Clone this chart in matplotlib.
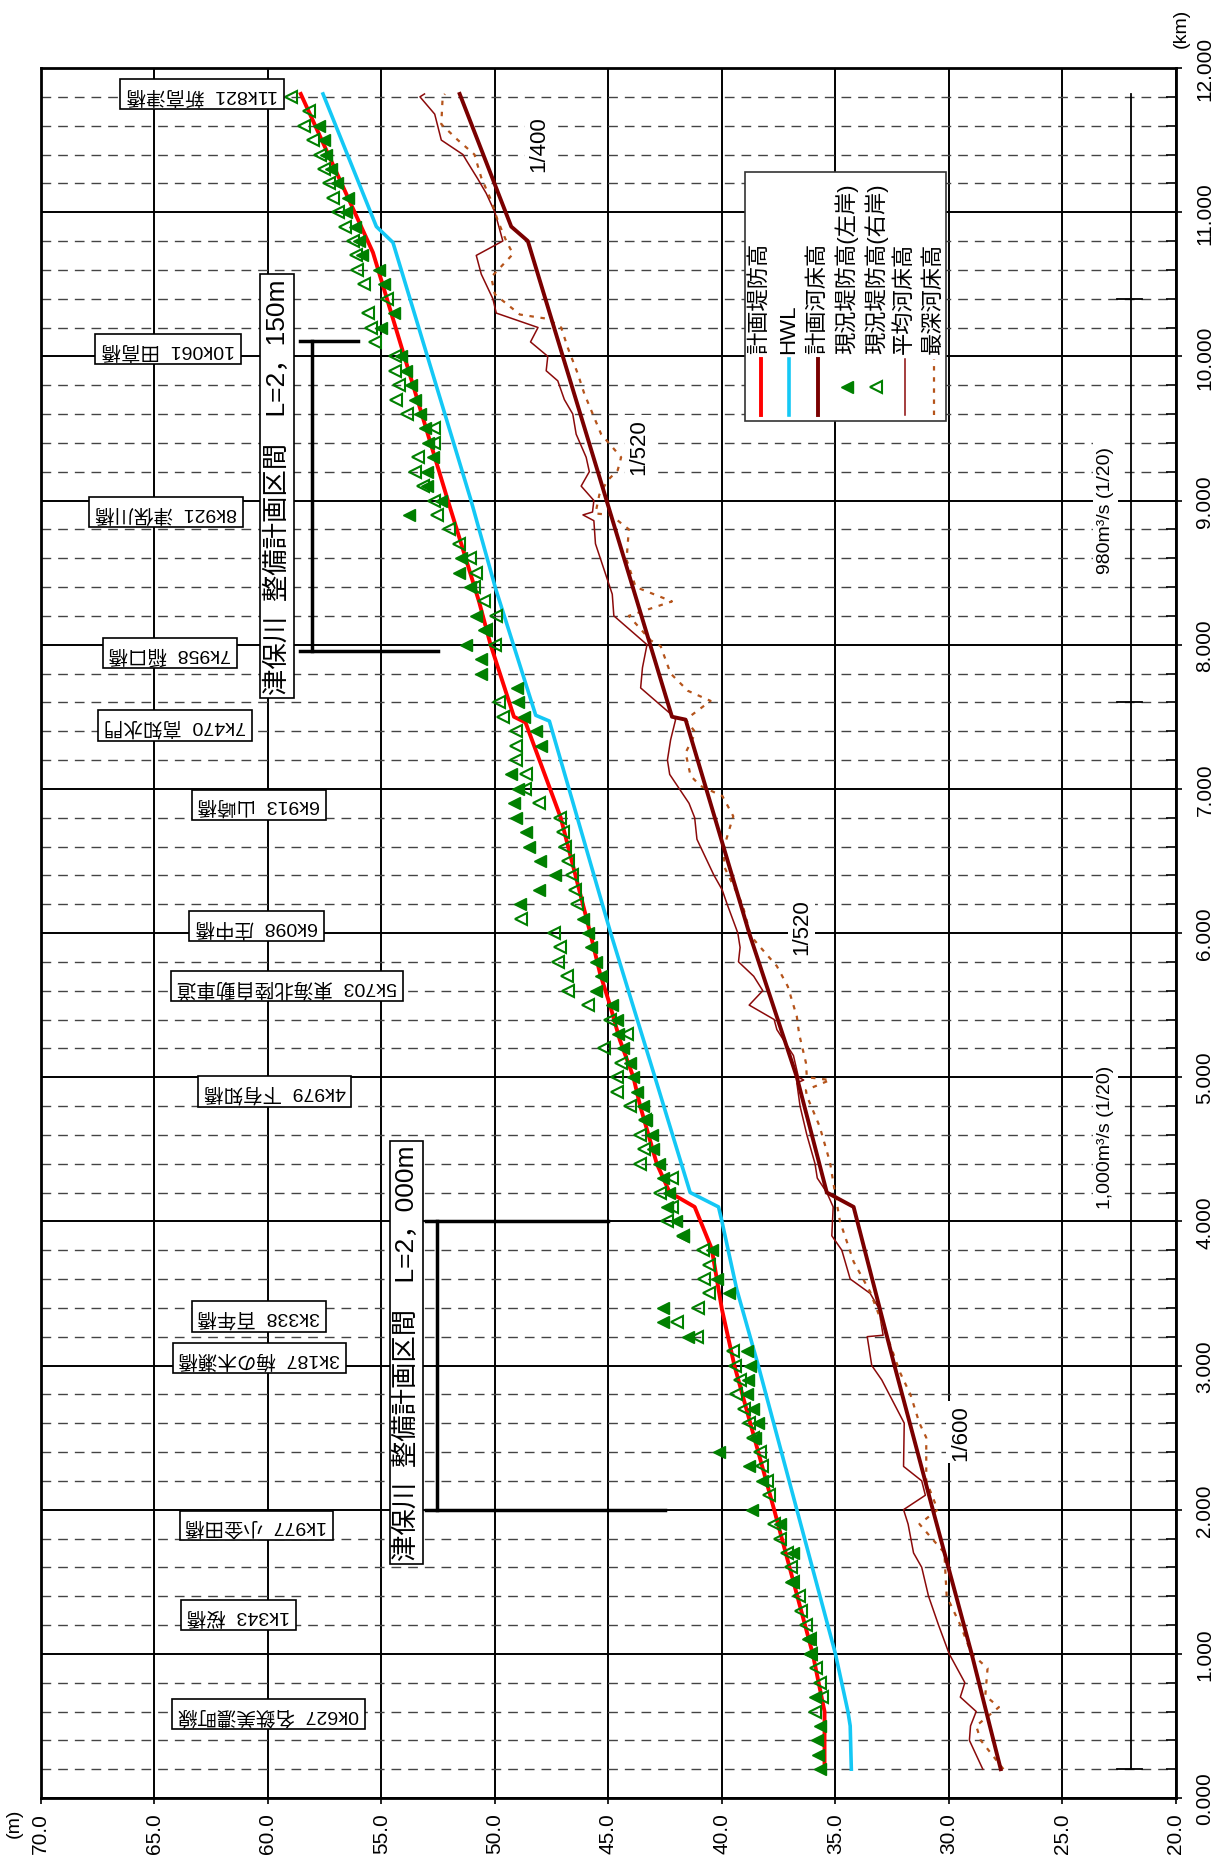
import numpy as np
import matplotlib
matplotlib.use('Agg')
import matplotlib.pyplot as plt
from matplotlib.ticker import FormatStrFormatter

plt.rcParams['font.family'] = ['Liberation Sans', 'Noto Sans CJK JP']

# 計画堤防高
plan_levee_km = [0.2, 0.6, 1.0, 2.0, 3.0, 3.39, 3.81, 4.1, 4.2, 4.4, 4.8, 5.0, 5.26, 5.5, 5.72, 6.0,
                 6.8, 7.46, 7.5, 8.0, 8.3, 9.0, 10.72, 10.8, 11.82]
plan_levee = [35.48, 35.48, 36.0, 37.7, 39.45, 40.0, 40.45, 41.2, 42.3, 42.87, 43.6, 43.9, 44.5, 44.93, 45.37, 45.8,
              47.1, 48.65, 49.16, 50.19, 50.7, 52.07, 55.37, 55.6, 58.55]

# HWL
hwl_km = [0.2, 0.5, 0.6, 1.0, 2.0, 3.0, 3.53, 4.0, 4.1, 4.2, 5.0, 6.0, 7.47, 7.51, 8.39, 9.0, 10.79, 10.9, 11.82]
hwl = [34.3, 34.35, 34.45, 35.0, 36.7, 38.4, 39.35, 40.0, 40.15, 41.4, 42.95, 44.9, 47.6, 48.2, 49.97, 51.05,
       54.49, 55.22, 57.57]

# 計画河床高
plan_bed_km = [0.2, 1.0, 2.0, 3.0, 4.1, 4.2, 5.0, 6.0, 7.48, 7.5, 9.0, 10.8, 10.9, 11.82]
plan_bed = [27.72, 29.0, 30.71, 32.4, 34.2, 35.38, 36.7, 38.8, 41.6, 42.2, 45.08, 48.55, 49.28, 51.55]

# 平均河床高
avg_bed_km = [0.2, 0.4, 0.5, 0.6, 0.7, 0.8, 1.0, 1.2, 1.4, 1.6, 1.7, 1.9, 2.0, 2.1, 2.2, 2.3, 2.6, 2.9, 3.0,
              3.2, 3.21, 3.4, 3.5, 3.6, 3.8, 3.9, 4.1, 4.2, 4.3, 4.4, 4.6, 4.8, 4.96, 4.98, 5.0, 5.15, 5.33,
              5.4, 5.5, 5.6, 5.7, 5.8, 5.9, 6.0, 6.2, 6.3, 6.4, 6.5, 6.65, 6.8, 6.9, 7.1, 7.2, 7.34, 7.48,
              7.52, 7.7, 7.84, 8.0, 8.2, 8.35, 8.7, 8.86, 8.9, 8.92, 9.0, 9.1, 9.2, 9.3, 9.46, 9.6, 9.7,
              9.83, 9.9, 10.0, 10.1, 10.2, 10.3, 10.4, 10.57, 10.7, 10.8, 11.0, 11.13, 11.23, 11.36, 11.4,
              11.5, 11.68, 11.8, 11.82]
avg_bed = [28.51, 29.1, 29.05, 28.8, 29.5, 29.3, 29.99, 30.46, 30.9, 31.2, 31.56, 31.8, 32.0, 31.04, 31.2, 32.0,
           31.97, 32.96, 33.4, 33.6, 32.9, 33.1, 33.47, 34.35, 34.72, 35.16, 35.1, 35.38, 35.8, 35.9, 36.26,
           36.56, 36.7, 36.4, 36.63, 36.85, 37.58, 37.7, 38.8, 38.2, 38.6, 39.27, 39.2, 39.3, 39.77, 39.99,
           40.35, 40.65, 41.1, 41.2, 41.45, 42.3, 42.4, 42.26, 42.04, 42.26, 43.58, 43.5, 43.3, 44.76, 44.83,
           45.57, 45.64, 46.12, 45.7, 45.64, 46.2, 45.84, 45.98, 46.42, 46.57, 46.94, 47.23, 47.74, 47.67,
           48.43, 48.1, 49.94, 50.09, 50.6, 50.82, 49.65, 50.0, 50.38, 50.75, 51.26, 51.41, 52.36, 52.65,
           53.3, 53.1]

# 最深河床高
deep_bed_km = [0.2, 0.4, 0.5, 0.63, 0.71, 0.9, 1.0, 1.2, 1.4, 1.6, 1.7, 1.9, 2.0, 2.2, 2.5, 2.6, 2.8, 2.95,
               3.21, 3.51, 3.72, 4.0, 4.18, 4.41, 4.66, 4.87, 4.91, 4.98, 5.0, 5.1, 5.3, 5.42, 5.63, 5.77,
               5.9, 5.98, 6.2, 6.46, 6.6, 6.81, 6.95, 7.02, 7.09, 7.25, 7.39, 7.48, 7.61, 7.68, 7.8, 7.99,
               8.03, 8.2, 8.3, 8.4, 8.59, 8.8, 8.9, 8.91, 9.04, 9.14, 9.21, 9.3, 9.46, 9.74, 9.88, 10.06,
               10.2, 10.26, 10.29, 10.43, 10.55, 10.71, 10.8, 10.94, 11.08, 11.24, 11.4, 11.5, 11.61, 11.8,
               11.82]
deep_bed = [27.6, 28.6, 28.8, 27.8, 28.4, 28.3, 29.0, 29.5, 30.1, 30.17, 30.2, 31.3, 30.5, 31.0, 31.0, 31.3,
            31.7, 32.15, 32.74, 33.47, 34.2, 34.8, 35.0, 35.24, 35.7, 36.26, 36.3, 35.24, 36.26, 36.3, 36.6,
            36.7, 37.1, 37.58, 38.3, 38.73, 39.1, 39.9, 39.9, 39.5, 39.98, 40.94, 41.38, 41.6, 41.16, 41.6,
            40.5, 41.5, 42.26, 42.7, 43.14, 44.1, 42.2, 43.8, 44.2, 44.1, 44.9, 45.57, 45.4, 45.03, 44.59,
            44.44, 45.32, 46.06, 46.35, 46.79, 47.08, 47.67, 48.9, 50.0, 50.16, 49.2, 49.5, 49.87, 50.16,
            50.6, 50.9, 51.63, 52.36, 52.3, 52.2]

# 現況堤防高(左岸)
left_km = [0.2, 0.3, 0.4, 0.5, 0.7, 1.0, 1.1, 1.5, 1.7, 1.9, 2.0, 2.2, 2.3, 2.4, 2.5, 2.6, 2.7, 2.8, 2.9, 3.0,
           3.1, 3.2, 3.3, 3.4, 3.5, 3.6, 3.8, 3.9, 4.0, 4.1, 4.2, 4.3, 4.4, 4.5, 4.6, 4.7, 4.8, 4.9, 5.0,
           5.1, 5.2, 5.3, 5.4, 5.5, 5.6, 5.7, 5.8, 5.9, 6.0, 6.1, 6.2, 6.3, 6.4, 6.5, 6.6, 6.7, 6.8, 6.9,
           7.0, 7.1, 7.3, 7.4, 7.5, 7.6, 7.7, 7.8, 7.9, 8.0, 8.1, 8.2, 8.4, 8.5, 8.6, 8.9, 9.0, 9.1, 9.2,
           9.3, 9.4, 9.5, 9.6, 9.7, 9.8, 9.9, 10.0, 10.2, 10.3, 10.5, 10.6, 10.7, 10.8, 10.9, 11.0, 11.1,
           11.2, 11.3, 11.4, 11.5, 11.6]
left_levee = [35.70, 35.78, 35.82, 35.70, 35.90, 36.12, 36.22, 36.94, 36.88, 37.44, 38.66, 38.25, 38.79, 40.15,
              38.54, 38.39, 38.64, 38.88, 38.83, 38.76, 38.91, 41.48, 42.58, 42.58, 39.68, 40.23, 40.45, 41.70,
              42.02, 42.43, 42.31, 42.58, 42.75, 43.02, 43.09, 43.34, 43.49, 43.72, 43.90, 44.07, 44.37, 44.56,
              44.63, 44.85, 45.54, 45.34, 45.54, 45.76, 45.90, 46.12, 48.91, 48.05, 47.37, 48.02, 48.50, 48.62,
              49.05, 49.16, 48.99, 49.31, 47.99, 48.19, 48.72, 48.99, 49.02, 50.63, 50.63, 51.26, 50.48, 50.81,
              51.10, 51.57, 51.50, 53.79, 52.39, 52.98, 52.98, 52.73, 52.95, 53.09, 53.31, 53.50, 53.68, 53.90,
              54.12, 55.03, 54.44, 54.90, 55.12, 55.85, 56.00, 56.17, 56.57, 56.47, 56.94, 57.20, 57.42, 57.54,
              57.74]

# 現況堤防高(右岸)
right_km = [0.6, 0.7, 0.8, 0.9, 1.0, 1.1, 1.2, 1.3, 1.4, 1.5, 1.6, 1.7, 1.8, 1.9, 2.1, 2.2, 2.3, 2.4, 2.5, 2.6,
            2.7, 2.8, 2.9, 3.0, 3.1, 3.2, 3.3, 3.4, 3.5, 3.6, 3.7, 3.8, 3.9, 4.0, 4.1, 4.2, 4.3, 4.4, 4.5,
            4.6, 4.7, 4.8, 4.9, 5.0, 5.1, 5.2, 5.3, 5.4, 5.5, 5.6, 5.7, 5.8, 5.9, 6.0, 6.1, 6.2, 6.3, 6.4,
            6.5, 6.6, 6.7, 6.8, 6.9, 7.0, 7.1, 7.2, 7.3, 7.4, 7.5, 7.6, 8.0, 8.1, 8.2, 8.3, 8.4, 8.5, 8.6,
            8.7, 8.8, 8.9, 9.0, 9.1, 9.2, 9.3, 9.4, 9.5, 9.6, 9.7, 9.8, 9.9, 10.0, 10.1, 10.2, 10.3, 10.4,
            10.5, 10.6, 10.7, 10.8, 10.9, 11.0, 11.1, 11.2, 11.3, 11.4, 11.5, 11.6, 11.7, 11.8]
right_levee = [35.90, 35.57, 35.70, 35.85, 36.07, 36.12, 36.31, 36.53, 36.60, 36.85, 36.97, 37.14, 37.44, 37.69,
               37.92, 38.03, 38.22, 38.32, 38.64, 38.79, 39.02, 39.38, 39.20, 39.42, 39.49, 41.11, 41.99, 41.04,
               40.59, 40.81, 40.59, 40.84, 41.70, 42.43, 42.21, 42.72, 42.21, 43.63, 43.43, 43.60, 43.38, 44.05,
               44.63, 44.60, 44.46, 45.19, 44.19, 44.93, 45.88, 46.76, 46.81, 47.20, 47.13, 47.39, 48.84, 46.37,
               46.45, 46.62, 46.78, 46.92, 46.99, 47.15, 48.05, 48.66, 48.62, 49.09, 49.05, 49.06, 49.66, 49.82,
               49.99, 50.40, 49.97, 50.48, 50.93, 50.81, 51.10, 51.56, 52.03, 52.57, 52.69, 53.17, 53.53, 53.39,
               52.70, 52.68, 53.86, 54.34, 54.24, 54.38, 54.41, 55.29, 55.44, 55.59, 54.74, 55.78, 56.06, 56.10,
               56.25, 56.58, 56.91, 57.13, 57.32, 57.54, 57.71, 58.01, 58.40, 58.20, 58.99]

# 橋などの位置 (標高方向の位置, km)
bridge_names = ['11k821  新高津橋', '10k061  田高橋', '8k921  津保川橋', '7k958  稲口橋', '7k470  高知水門',
                '6k913  山崎橋', '6k098  庄中橋', '5k703  東海北陸自動車道', '4k979  下有知橋', '3k338  百年橋',
                '3k187  梅の木瀬橋', '1k977  小金田橋', '1k343  桜橋', '0k627  名鉄美濃町線']
bridge_x = [62.9, 64.4, 64.5, 64.3, 64.1, 60.4, 60.5, 59.17, 59.7, 60.4, 60.36, 60.5, 61.3, 59.97]
bridge_km = [11.82, 10.05, 8.92, 7.94, 7.44, 6.89, 6.05, 5.63, 4.9, 3.34, 3.05, 1.89, 1.27, 0.58]

slope_labels = ['1/400', '1/520', '1/520', '1/600']
slope_x = [48.07, 43.65, 36.49, 29.5]
slope_km = [11.48, 9.38, 6.05, 2.54]

flow_labels = ['1,000m³/s (1/20)', '980m³/s (1/20)']
flow_km = [4.59, 8.94]
flow_ticks_km = [0.2, 7.6, 10.4]

fig = plt.figure(figsize=(12.28, 18.65), dpi=100)
ax = fig.add_axes([40.8 / 1228, 1 - 1799 / 1865, 1135.2 / 1228, 1730 / 1865])
ax.set_xlim(70, 20)
ax.set_ylim(0, 12)

ax.set_xticks(np.arange(20, 70.1, 5))
ax.set_yticks(np.arange(0, 12.01, 1))
ax.set_yticks(np.arange(0, 12.01, 0.2), minor=True)
ax.xaxis.set_major_formatter(FormatStrFormatter('%.1f'))
ax.yaxis.set_major_formatter(FormatStrFormatter('%.3f'))
ax.set_axisbelow(True)
ax.grid(which='major', color='black', lw=1.4, ls='-')
ax.grid(which='minor', axis='y', color='#444444', lw=1.0, ls=(0, (7, 5)))
for s in ax.spines.values():
    s.set_linewidth(2)
ax.yaxis.tick_right()
ax.tick_params(axis='x', which='major', direction='out', length=4, width=1.2, labelsize=15,
               labelrotation=90, pad=6)
ax.tick_params(axis='y', which='major', direction='out', length=4, width=1.2, labelsize=15,
               labelrotation=90, pad=10)
ax.tick_params(axis='y', which='minor', direction='in', length=7, width=1.2, right=True, left=False)
for lbl in ax.get_yticklabels():
    lbl.set_va('center')

fig.text(14 / 1228, 1 - 1823 / 1865, '(m)', rotation=90, fontsize=14, ha='center', va='center')
fig.text(1181 / 1228, 1 - 28 / 1865, '(km)', rotation=90, fontsize=14, ha='center', va='center')

# 縦断線
ax.plot(hwl, hwl_km, color='#14c8f5', lw=2.6, zorder=3)
ax.plot(avg_bed, avg_bed_km, color='#8b0a0a', lw=1.1, zorder=3)
ax.plot(deep_bed, deep_bed_km, color='#b5541b', lw=1.6, ls=(0, (2, 3)), zorder=3)
ax.plot(plan_bed, plan_bed_km, color='#7a0000', lw=2.8, zorder=3)
ax.plot(plan_levee, plan_levee_km, color='#ff0000', lw=2.8, zorder=3)
ax.plot(right_levee, right_km, ls='none', marker='<', ms=8.5, mfc='none', mec='#008000', mew=1.5, zorder=4)
ax.plot(left_levee, left_km, ls='none', marker='<', ms=9, mfc='#008000', mec='#008000', zorder=4)

# 整備計画区間
ax.plot([52.53, 52.53], [2.0, 4.0], color='black', lw=2.5, zorder=3)
ax.plot([53.05, 45.0], [4.0, 4.0], color='black', lw=2.5, zorder=3)
ax.plot([53.05, 42.5], [2.0, 2.0], color='black', lw=2.5, zorder=3)
ax.plot([58.07, 58.07], [7.957, 10.106], color='black', lw=2.5, zorder=3)
ax.plot([58.57, 56.01], [10.106, 10.106], color='black', lw=2.5, zorder=3)
ax.plot([58.57, 52.49], [7.957, 7.957], color='black', lw=2.5, zorder=3)
sec_box = dict(boxstyle='square,pad=0.15', fc='white', ec='black', lw=1.2)
ax.text(53.88, 3.09, '津保川  整備計画区間　L=2，000m', rotation=90, fontsize=19, ha='center', va='center',
        bbox=sec_box, zorder=5)
ax.text(59.6, 9.1, '津保川  整備計画区間　L=2，150m', rotation=90, fontsize=19, ha='center', va='center',
        bbox=sec_box, zorder=5)

# 橋名
for name, bx, bk in zip(bridge_names, bridge_x, bridge_km):
    ax.text(bx, bk, name, rotation=180, fontsize=14, ha='center', va='center', zorder=5,
            bbox=dict(boxstyle='square,pad=0.3', fc='white', ec='black', lw=1.2))

# 勾配
for lab, sx, sk in zip(slope_labels, slope_x, slope_km):
    ax.text(sx, sk, lab, rotation=90, fontsize=16, ha='center', va='center', zorder=5,
            bbox=dict(boxstyle='square,pad=0.15', fc='white', ec='none'))

# 流量
ax.plot([22.0, 22.0], [0.2, 11.82], color='black', lw=1.3, zorder=3)
for fk in flow_ticks_km:
    ax.plot([22.6, 21.5], [fk, fk], color='black', lw=1.3, zorder=3)
for lab, fk in zip(flow_labels, flow_km):
    ax.text(23.1, fk, lab, rotation=90, fontsize=14, ha='center', va='center', zorder=5,
            bbox=dict(boxstyle='square,pad=0.2', fc='white', ec='none'))

# 凡例
ax.add_patch(plt.Rectangle((38.98, 9.55), 30.12 - 38.98, 11.28 - 9.55, fc='white', ec='#333333', lw=1.2,
                           zorder=6))
leg_labels = ['計画堤防高', 'HWL', '計画河床高', '現況堤防高(左岸)', '現況堤防高(右岸)', '平均河床高', '最深河床高']
leg_x = [38.30, 37.05, 35.77, 34.5, 33.2, 31.95, 30.67]
ax.plot([leg_x[0]] * 2, [9.59, 9.98], color='#ff0000', lw=2.8, zorder=7)
ax.plot([leg_x[1]] * 2, [9.59, 9.98], color='#14c8f5', lw=2.6, zorder=7)
ax.plot([leg_x[2]] * 2, [9.59, 9.98], color='#7a0000', lw=2.8, zorder=7)
ax.plot([leg_x[3]], [9.79], marker='<', ms=9, mfc='#008000', mec='#008000', zorder=7)
ax.plot([leg_x[4]], [9.79], marker='<', ms=8.5, mfc='none', mec='#008000', mew=1.5, zorder=7)
ax.plot([leg_x[5]] * 2, [9.59, 9.98], color='#8b0a0a', lw=1.1, zorder=7)
ax.plot([leg_x[6]] * 2, [9.59, 9.98], color='#b5541b', lw=1.6, ls=(0, (2, 3)), zorder=7)
for lab, lx in zip(leg_labels, leg_x):
    ax.text(lx, 10.02, lab, rotation=90, fontsize=16, ha='center', va='bottom', zorder=7)

fig.savefig('out.png', dpi=100)
